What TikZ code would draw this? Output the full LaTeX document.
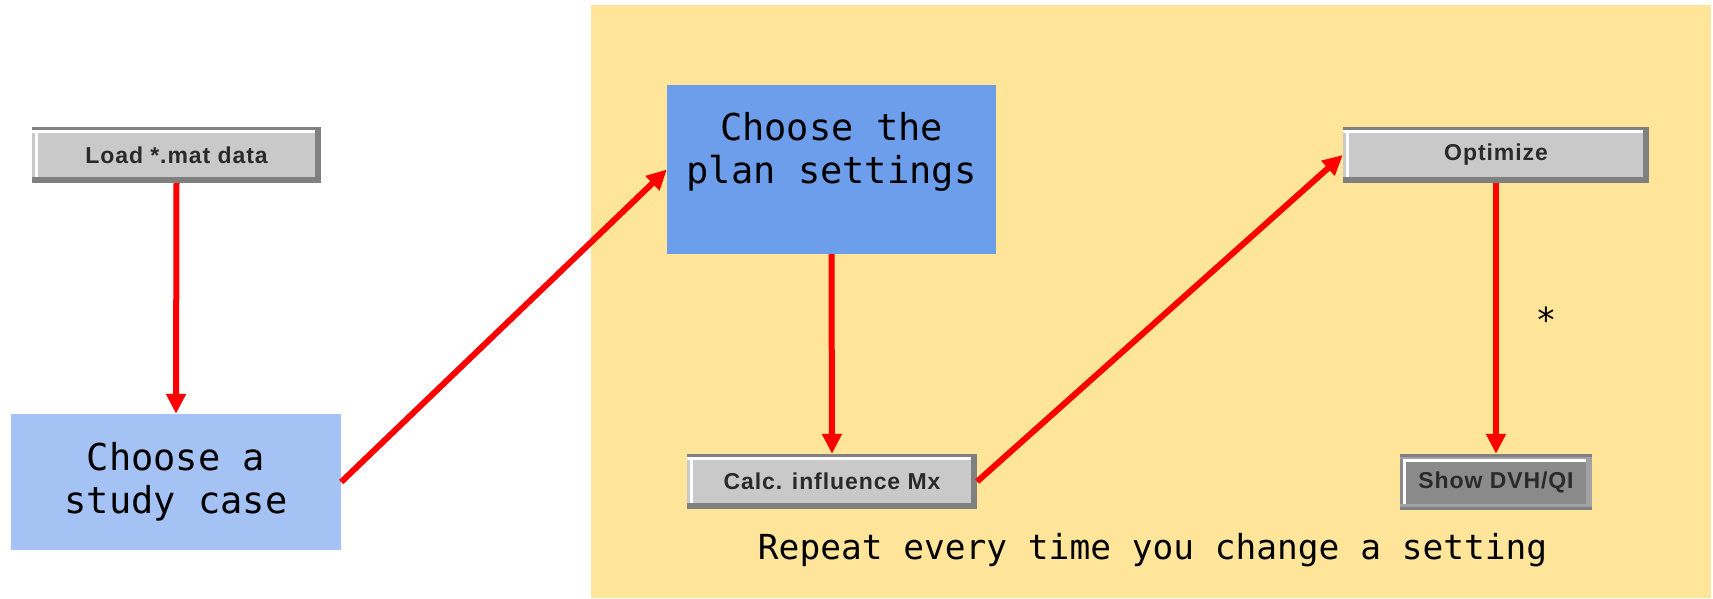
\documentclass[tikz,border=0pt]{standalone}
\usepackage{fontspec}
\newfontfamily\monof{DejaVu Sans Mono}
\newfontfamily\btnf[LetterSpace=4]{Liberation Sans}
\usetikzlibrary{arrows.meta}
\definecolor{bgyellow}{HTML}{FFE599}
\definecolor{lightblue}{HTML}{A4C2F4}
\definecolor{midblue}{HTML}{6D9EEB}
\definecolor{btnface}{HTML}{C9C9C9}
\definecolor{btndark}{HTML}{808080}
\definecolor{btnpressed}{HTML}{8A8A8A}
\definecolor{btnrim}{HTML}{A2A2A2}
\definecolor{btntext}{HTML}{2A2A2A}
\tikzset{
  stepbox/.style={rectangle, draw=none, inner sep=0pt},
  boxtext/.style={font={\monof\fontsize{37}{43}\selectfont}, align=center, inner sep=0pt},
  plaintext/.style={font={\monof\fontsize{34.5}{40}\selectfont}, inner sep=0pt},
  btn/.style={rectangle, inner sep=0pt, fill=btnface, text=btntext,
    font={\btnf\bfseries\fontsize{23}{26}\selectfont}},
  flow/.style={draw=red, line width=6pt, -{Triangle[length=20pt,width=19pt]}},
}
\newcommand\raisedbevel[1]{%
  \fill[btndark] (#1.north west) rectangle ([yshift=-3pt]#1.north east);
  \fill[white] ([yshift=-3pt]#1.north west) rectangle ([xshift=-6pt,yshift=-6pt]#1.north east);
  \fill[white] ([xshift=3pt,yshift=-3pt]#1.north west) rectangle ([xshift=6pt,yshift=6pt]#1.south west);
  \fill[btndark] ([xshift=-6pt,yshift=-3pt]#1.north east) rectangle (#1.south east);
  \fill[btndark] (#1.south west) rectangle ([yshift=6pt]#1.south east);
}
\newcommand\sunkenbevel[1]{%
  \fill[btndark] (#1.north west) rectangle ([yshift=-3pt]#1.north east);
  \fill[btnrim] ([yshift=-3pt]#1.north west) rectangle ([yshift=-5pt]#1.north east);
  \fill[white] ([xshift=3pt,yshift=-5pt]#1.north west) rectangle ([xshift=-6pt,yshift=-8pt]#1.north east);
  \fill[white] ([xshift=3pt,yshift=-5pt]#1.north west) rectangle ([xshift=6pt,yshift=6pt]#1.south west);
  \fill[btnrim] ([xshift=-6pt,yshift=-5pt]#1.north east) rectangle (#1.south east);
  \fill[btnrim] (#1.south west) rectangle ([yshift=6pt]#1.south east);
  \fill[btndark] (#1.south west) rectangle ([yshift=3pt]#1.south east);
}
\begin{document}
\begin{tikzpicture}[x=1pt,y=-1pt]
  \useasboundingbox (0,0) rectangle (1713,598);
  \fill[white] (0,0) rectangle (1713,598);
  \fill[bgyellow] (591,5) rectangle (1711,598);

  % boxes
  \node[stepbox, fill=lightblue, minimum width=330pt, minimum height=136pt] (study) at (176,482) {};
  \node[boxtext] (studytxt) at (176,482) {Choose a\\study case};
  \node[stepbox, fill=midblue, minimum width=329pt, minimum height=169pt] (plan) at (831.5,169.5) {};
  \node[boxtext] (plantxt) at (831.5,152) {Choose the\\plan settings};

  % buttons
  \node[btn, minimum width=289pt, minimum height=56pt] (load) at (176.5,155) {Load *.mat data};
  \raisedbevel{load}
  \node[btn, minimum width=290pt, minimum height=55pt] (calc) at (832,481.5) {Calc. influence Mx};
  \raisedbevel{calc}
  \node[btn, minimum width=306pt, minimum height=56pt] (opt) at (1496,155) {Optimize};
  \raisedbevel{opt}
  \node[btn, fill=btnpressed, minimum width=192pt, minimum height=56pt] (show) at (1496,482) {Show DVH/QI};
  \sunkenbevel{show}

  % arrows
  \draw[flow] (load.south) -- (study.north);
  \draw[flow] (study.east) -- (plan.west);
  \draw[flow] (plan.south) -- (calc.north);
  \draw[flow] (calc.east) -- (opt.west);
  \draw[flow] (opt.south) -- (show.north);

  % texts
  \node[plaintext, anchor=base] (star) at (1546,332) {*};
  \node[plaintext] (repeat) at (1152.6,550) {Repeat every time you change a setting};
\end{tikzpicture}
\end{document}
